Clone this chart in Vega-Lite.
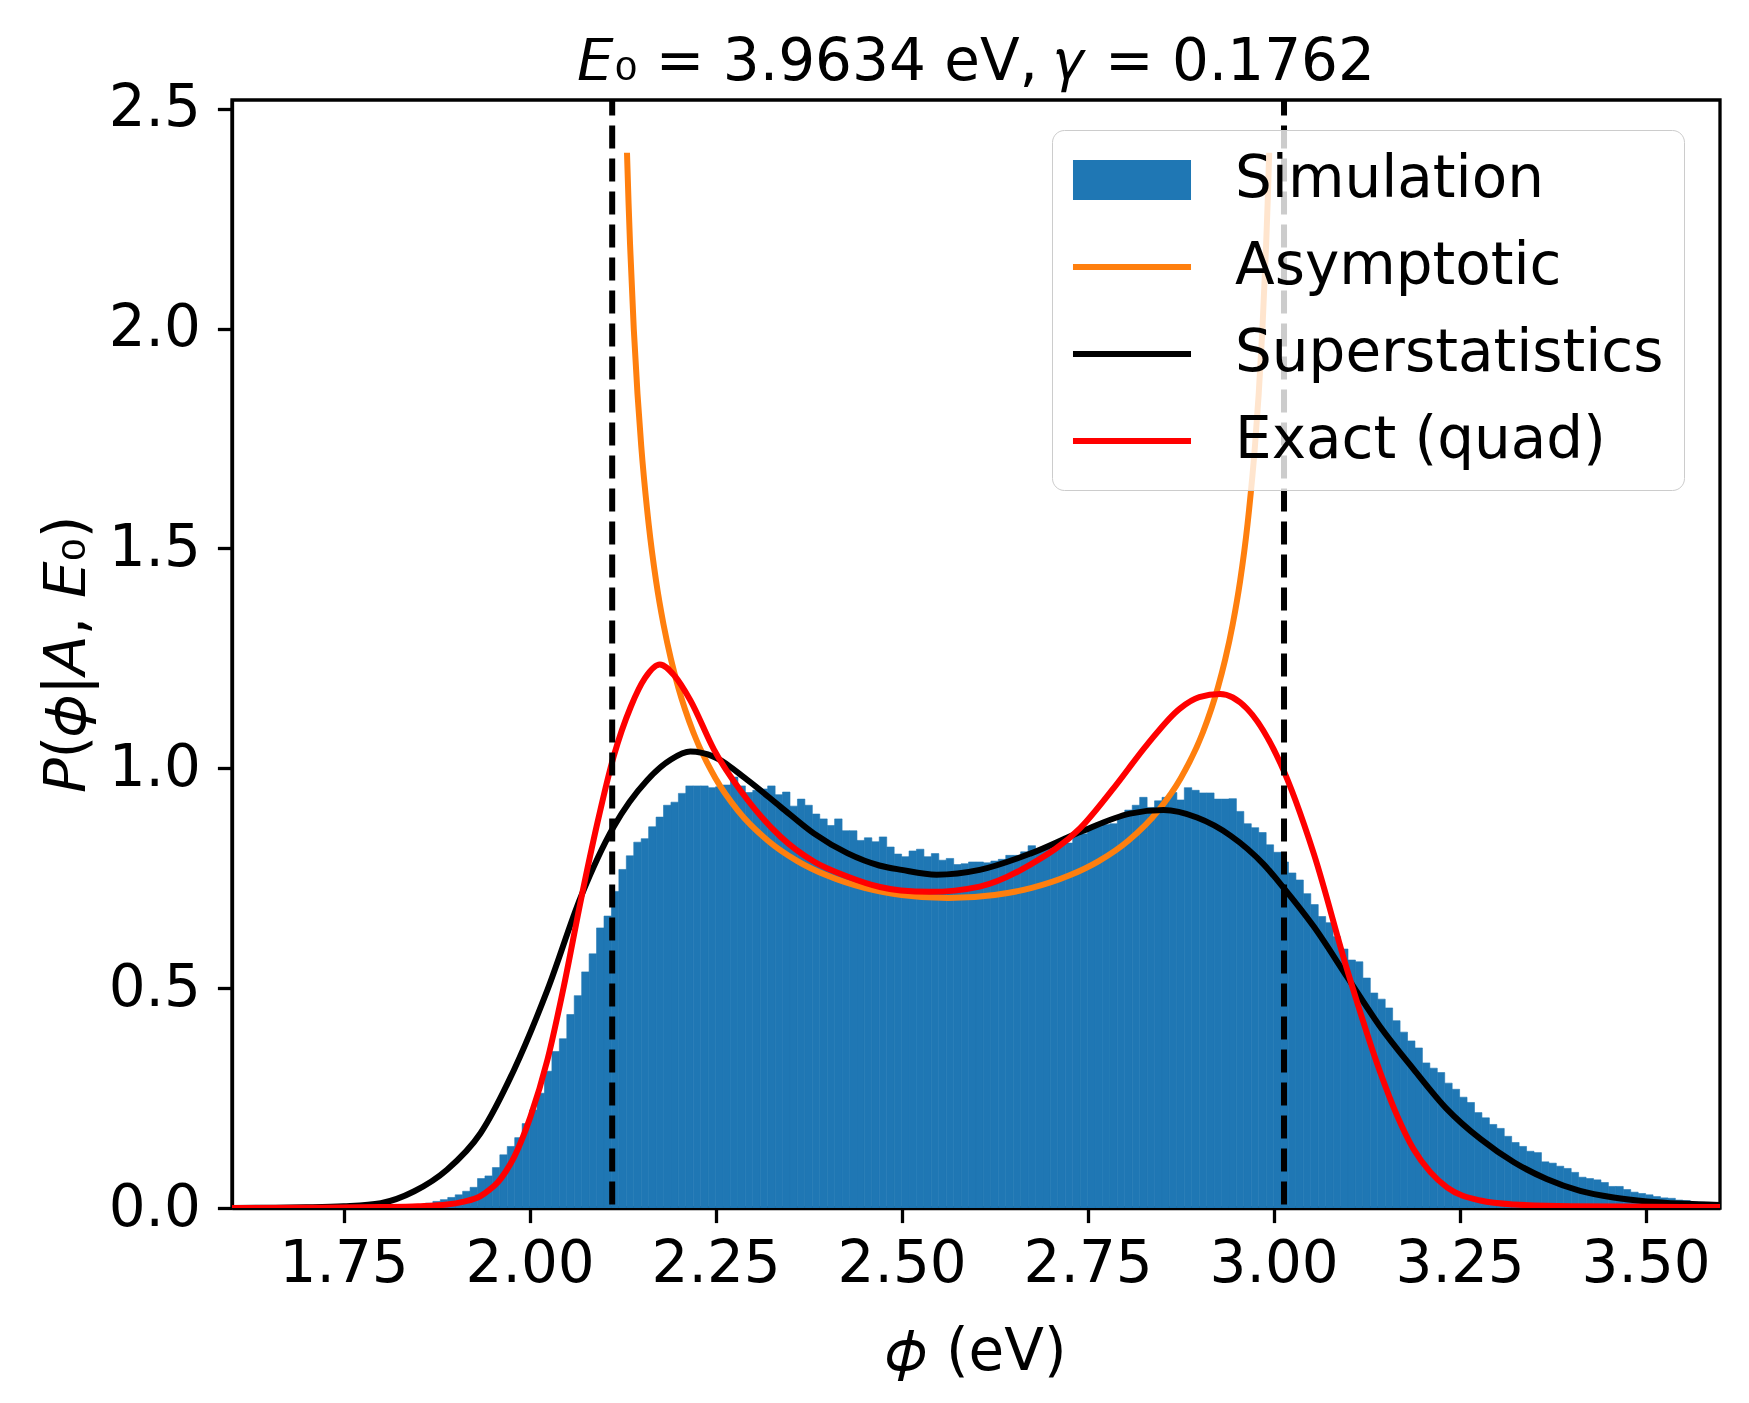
{
  "$schema": "https://vega.github.io/schema/vega-lite/v6.json",
  "width": 1488,
  "height": 1108,
  "autosize": {"type": "none"},
  "padding": {"left": 232, "top": 100, "right": 29, "bottom": 195},
  "background": "white",
  "title": {
    "text": "𝘌₀ = 3.9634 eV, 𝛾 = 0.1762",
    "font": "DejaVu Sans",
    "fontSize": 58,
    "fontWeight": "normal",
    "color": "black",
    "anchor": "middle",
    "frame": "group",
    "baseline": "alphabetic",
    "offset": 23,
    "dy": 81
  },
  "datasets": {
    "hist": [
      {"lo": 1.82, "hi": 1.83, "p": 0.002}, {"lo": 1.83, "hi": 1.84, "p": 0.004},
      {"lo": 1.84, "hi": 1.85, "p": 0.006}, {"lo": 1.85, "hi": 1.86, "p": 0.008},
      {"lo": 1.86, "hi": 1.87, "p": 0.011}, {"lo": 1.87, "hi": 1.88, "p": 0.015},
      {"lo": 1.88, "hi": 1.89, "p": 0.019}, {"lo": 1.89, "hi": 1.90, "p": 0.024},
      {"lo": 1.90, "hi": 1.91, "p": 0.030}, {"lo": 1.91, "hi": 1.92, "p": 0.038},
      {"lo": 1.92, "hi": 1.93, "p": 0.047}, {"lo": 1.93, "hi": 1.94, "p": 0.067},
      {"lo": 1.94, "hi": 1.95, "p": 0.073}, {"lo": 1.95, "hi": 1.96, "p": 0.092},
      {"lo": 1.96, "hi": 1.97, "p": 0.121}, {"lo": 1.97, "hi": 1.98, "p": 0.140},
      {"lo": 1.98, "hi": 1.99, "p": 0.160}, {"lo": 1.99, "hi": 2.00, "p": 0.192},
      {"lo": 2.00, "hi": 2.01, "p": 0.223}, {"lo": 2.01, "hi": 2.02, "p": 0.261},
      {"lo": 2.02, "hi": 2.03, "p": 0.311}, {"lo": 2.03, "hi": 2.04, "p": 0.356},
      {"lo": 2.04, "hi": 2.05, "p": 0.385}, {"lo": 2.05, "hi": 2.06, "p": 0.440},
      {"lo": 2.06, "hi": 2.07, "p": 0.483}, {"lo": 2.07, "hi": 2.08, "p": 0.537},
      {"lo": 2.08, "hi": 2.09, "p": 0.578}, {"lo": 2.09, "hi": 2.10, "p": 0.637},
      {"lo": 2.10, "hi": 2.11, "p": 0.664}, {"lo": 2.11, "hi": 2.12, "p": 0.720},
      {"lo": 2.12, "hi": 2.13, "p": 0.770}, {"lo": 2.13, "hi": 2.14, "p": 0.801},
      {"lo": 2.14, "hi": 2.15, "p": 0.832}, {"lo": 2.15, "hi": 2.16, "p": 0.840},
      {"lo": 2.16, "hi": 2.17, "p": 0.867}, {"lo": 2.17, "hi": 2.18, "p": 0.889},
      {"lo": 2.18, "hi": 2.19, "p": 0.916}, {"lo": 2.19, "hi": 2.20, "p": 0.923},
      {"lo": 2.20, "hi": 2.21, "p": 0.943}, {"lo": 2.21, "hi": 2.22, "p": 0.960},
      {"lo": 2.22, "hi": 2.23, "p": 0.960}, {"lo": 2.23, "hi": 2.24, "p": 0.960},
      {"lo": 2.24, "hi": 2.25, "p": 0.956}, {"lo": 2.25, "hi": 2.26, "p": 0.958},
      {"lo": 2.26, "hi": 2.27, "p": 0.962}, {"lo": 2.27, "hi": 2.28, "p": 0.980},
      {"lo": 2.28, "hi": 2.29, "p": 0.960}, {"lo": 2.29, "hi": 2.30, "p": 0.945},
      {"lo": 2.30, "hi": 2.31, "p": 0.950}, {"lo": 2.31, "hi": 2.32, "p": 0.953},
      {"lo": 2.32, "hi": 2.33, "p": 0.960}, {"lo": 2.33, "hi": 2.34, "p": 0.940},
      {"lo": 2.34, "hi": 2.35, "p": 0.946}, {"lo": 2.35, "hi": 2.36, "p": 0.914},
      {"lo": 2.36, "hi": 2.37, "p": 0.930}, {"lo": 2.37, "hi": 2.38, "p": 0.916},
      {"lo": 2.38, "hi": 2.39, "p": 0.896}, {"lo": 2.39, "hi": 2.40, "p": 0.885},
      {"lo": 2.40, "hi": 2.41, "p": 0.870}, {"lo": 2.41, "hi": 2.42, "p": 0.885},
      {"lo": 2.42, "hi": 2.43, "p": 0.858}, {"lo": 2.43, "hi": 2.44, "p": 0.858},
      {"lo": 2.44, "hi": 2.45, "p": 0.836}, {"lo": 2.45, "hi": 2.46, "p": 0.842},
      {"lo": 2.46, "hi": 2.47, "p": 0.833}, {"lo": 2.47, "hi": 2.48, "p": 0.844},
      {"lo": 2.48, "hi": 2.49, "p": 0.821}, {"lo": 2.49, "hi": 2.50, "p": 0.805},
      {"lo": 2.50, "hi": 2.51, "p": 0.799}, {"lo": 2.51, "hi": 2.52, "p": 0.812},
      {"lo": 2.52, "hi": 2.53, "p": 0.816}, {"lo": 2.53, "hi": 2.54, "p": 0.799},
      {"lo": 2.54, "hi": 2.55, "p": 0.806}, {"lo": 2.55, "hi": 2.56, "p": 0.791},
      {"lo": 2.56, "hi": 2.57, "p": 0.795}, {"lo": 2.57, "hi": 2.58, "p": 0.781},
      {"lo": 2.58, "hi": 2.59, "p": 0.783}, {"lo": 2.59, "hi": 2.60, "p": 0.787},
      {"lo": 2.60, "hi": 2.61, "p": 0.787}, {"lo": 2.61, "hi": 2.62, "p": 0.785},
      {"lo": 2.62, "hi": 2.63, "p": 0.789}, {"lo": 2.63, "hi": 2.64, "p": 0.793},
      {"lo": 2.64, "hi": 2.65, "p": 0.802}, {"lo": 2.65, "hi": 2.66, "p": 0.802},
      {"lo": 2.66, "hi": 2.67, "p": 0.810}, {"lo": 2.67, "hi": 2.68, "p": 0.824},
      {"lo": 2.68, "hi": 2.69, "p": 0.810}, {"lo": 2.69, "hi": 2.70, "p": 0.818},
      {"lo": 2.70, "hi": 2.71, "p": 0.822}, {"lo": 2.71, "hi": 2.72, "p": 0.826},
      {"lo": 2.72, "hi": 2.73, "p": 0.830}, {"lo": 2.73, "hi": 2.74, "p": 0.847},
      {"lo": 2.74, "hi": 2.75, "p": 0.851}, {"lo": 2.75, "hi": 2.76, "p": 0.864},
      {"lo": 2.76, "hi": 2.77, "p": 0.868}, {"lo": 2.77, "hi": 2.78, "p": 0.872},
      {"lo": 2.78, "hi": 2.79, "p": 0.874}, {"lo": 2.79, "hi": 2.80, "p": 0.887},
      {"lo": 2.80, "hi": 2.81, "p": 0.905}, {"lo": 2.81, "hi": 2.82, "p": 0.916},
      {"lo": 2.82, "hi": 2.83, "p": 0.934}, {"lo": 2.83, "hi": 2.84, "p": 0.911},
      {"lo": 2.84, "hi": 2.85, "p": 0.926}, {"lo": 2.85, "hi": 2.86, "p": 0.934},
      {"lo": 2.86, "hi": 2.87, "p": 0.945}, {"lo": 2.87, "hi": 2.88, "p": 0.928},
      {"lo": 2.88, "hi": 2.89, "p": 0.956}, {"lo": 2.89, "hi": 2.90, "p": 0.950},
      {"lo": 2.90, "hi": 2.91, "p": 0.944}, {"lo": 2.91, "hi": 2.92, "p": 0.944},
      {"lo": 2.92, "hi": 2.93, "p": 0.930}, {"lo": 2.93, "hi": 2.94, "p": 0.930},
      {"lo": 2.94, "hi": 2.95, "p": 0.931}, {"lo": 2.95, "hi": 2.96, "p": 0.902},
      {"lo": 2.96, "hi": 2.97, "p": 0.874}, {"lo": 2.97, "hi": 2.98, "p": 0.865},
      {"lo": 2.98, "hi": 2.99, "p": 0.854}, {"lo": 2.99, "hi": 3.00, "p": 0.826},
      {"lo": 3.00, "hi": 3.01, "p": 0.809}, {"lo": 3.01, "hi": 3.02, "p": 0.787},
      {"lo": 3.02, "hi": 3.03, "p": 0.762}, {"lo": 3.03, "hi": 3.04, "p": 0.746},
      {"lo": 3.04, "hi": 3.05, "p": 0.715}, {"lo": 3.05, "hi": 3.06, "p": 0.690},
      {"lo": 3.06, "hi": 3.07, "p": 0.663}, {"lo": 3.07, "hi": 3.08, "p": 0.649},
      {"lo": 3.08, "hi": 3.09, "p": 0.617}, {"lo": 3.09, "hi": 3.10, "p": 0.589},
      {"lo": 3.10, "hi": 3.11, "p": 0.564}, {"lo": 3.11, "hi": 3.12, "p": 0.560},
      {"lo": 3.12, "hi": 3.13, "p": 0.523}, {"lo": 3.13, "hi": 3.14, "p": 0.489},
      {"lo": 3.14, "hi": 3.15, "p": 0.475}, {"lo": 3.15, "hi": 3.16, "p": 0.455},
      {"lo": 3.16, "hi": 3.17, "p": 0.426}, {"lo": 3.17, "hi": 3.18, "p": 0.400},
      {"lo": 3.18, "hi": 3.19, "p": 0.380}, {"lo": 3.19, "hi": 3.20, "p": 0.364},
      {"lo": 3.20, "hi": 3.21, "p": 0.330}, {"lo": 3.21, "hi": 3.22, "p": 0.318},
      {"lo": 3.22, "hi": 3.23, "p": 0.308}, {"lo": 3.23, "hi": 3.24, "p": 0.284},
      {"lo": 3.24, "hi": 3.25, "p": 0.270}, {"lo": 3.25, "hi": 3.26, "p": 0.252},
      {"lo": 3.26, "hi": 3.27, "p": 0.240}, {"lo": 3.27, "hi": 3.28, "p": 0.217},
      {"lo": 3.28, "hi": 3.29, "p": 0.205}, {"lo": 3.29, "hi": 3.30, "p": 0.190},
      {"lo": 3.30, "hi": 3.31, "p": 0.181}, {"lo": 3.31, "hi": 3.32, "p": 0.163},
      {"lo": 3.32, "hi": 3.33, "p": 0.149}, {"lo": 3.33, "hi": 3.34, "p": 0.140},
      {"lo": 3.34, "hi": 3.35, "p": 0.129}, {"lo": 3.35, "hi": 3.36, "p": 0.126},
      {"lo": 3.36, "hi": 3.37, "p": 0.105}, {"lo": 3.37, "hi": 3.38, "p": 0.102},
      {"lo": 3.38, "hi": 3.39, "p": 0.095}, {"lo": 3.39, "hi": 3.40, "p": 0.090},
      {"lo": 3.40, "hi": 3.41, "p": 0.081}, {"lo": 3.41, "hi": 3.42, "p": 0.070},
      {"lo": 3.42, "hi": 3.43, "p": 0.067}, {"lo": 3.43, "hi": 3.44, "p": 0.064},
      {"lo": 3.44, "hi": 3.45, "p": 0.058}, {"lo": 3.45, "hi": 3.46, "p": 0.049},
      {"lo": 3.46, "hi": 3.47, "p": 0.049}, {"lo": 3.47, "hi": 3.48, "p": 0.042},
      {"lo": 3.48, "hi": 3.49, "p": 0.036}, {"lo": 3.49, "hi": 3.50, "p": 0.033},
      {"lo": 3.50, "hi": 3.51, "p": 0.030}, {"lo": 3.51, "hi": 3.52, "p": 0.026},
      {"lo": 3.52, "hi": 3.53, "p": 0.023}, {"lo": 3.53, "hi": 3.54, "p": 0.022},
      {"lo": 3.54, "hi": 3.55, "p": 0.018}, {"lo": 3.55, "hi": 3.56, "p": 0.017},
      {"lo": 3.56, "hi": 3.57, "p": 0.014}, {"lo": 3.57, "hi": 3.58, "p": 0.013},
      {"lo": 3.58, "hi": 3.59, "p": 0.011}, {"lo": 3.59, "hi": 3.60, "p": 0.011}
    ],
    "curves": [
      {"series": "Asymptotic", "phi": 2.1309, "p": 2.400},
      {"series": "Asymptotic", "phi": 2.133, "p": 2.286},
      {"series": "Asymptotic", "phi": 2.135, "p": 2.192},
      {"series": "Asymptotic", "phi": 2.140, "p": 2.000},
      {"series": "Asymptotic", "phi": 2.145, "p": 1.852},
      {"series": "Asymptotic", "phi": 2.150, "p": 1.734},
      {"series": "Asymptotic", "phi": 2.160, "p": 1.556},
      {"series": "Asymptotic", "phi": 2.170, "p": 1.426},
      {"series": "Asymptotic", "phi": 2.180, "p": 1.327},
      {"series": "Asymptotic", "phi": 2.190, "p": 1.248},
      {"series": "Asymptotic", "phi": 2.200, "p": 1.183},
      {"series": "Asymptotic", "phi": 2.220, "p": 1.082},
      {"series": "Asymptotic", "phi": 2.250, "p": 0.977},
      {"series": "Asymptotic", "phi": 2.280, "p": 0.904},
      {"series": "Asymptotic", "phi": 2.320, "p": 0.836},
      {"series": "Asymptotic", "phi": 2.360, "p": 0.789},
      {"series": "Asymptotic", "phi": 2.400, "p": 0.756},
      {"series": "Asymptotic", "phi": 2.450, "p": 0.728},
      {"series": "Asymptotic", "phi": 2.500, "p": 0.712},
      {"series": "Asymptotic", "phi": 2.5625, "p": 0.705},
      {"series": "Asymptotic", "phi": 2.625, "p": 0.712},
      {"series": "Asymptotic", "phi": 2.675, "p": 0.728},
      {"series": "Asymptotic", "phi": 2.725, "p": 0.756},
      {"series": "Asymptotic", "phi": 2.765, "p": 0.789},
      {"series": "Asymptotic", "phi": 2.805, "p": 0.836},
      {"series": "Asymptotic", "phi": 2.845, "p": 0.904},
      {"series": "Asymptotic", "phi": 2.875, "p": 0.977},
      {"series": "Asymptotic", "phi": 2.905, "p": 1.082},
      {"series": "Asymptotic", "phi": 2.925, "p": 1.183},
      {"series": "Asymptotic", "phi": 2.935, "p": 1.248},
      {"series": "Asymptotic", "phi": 2.945, "p": 1.327},
      {"series": "Asymptotic", "phi": 2.955, "p": 1.426},
      {"series": "Asymptotic", "phi": 2.965, "p": 1.556},
      {"series": "Asymptotic", "phi": 2.975, "p": 1.734},
      {"series": "Asymptotic", "phi": 2.980, "p": 1.852},
      {"series": "Asymptotic", "phi": 2.985, "p": 2.000},
      {"series": "Asymptotic", "phi": 2.990, "p": 2.192},
      {"series": "Asymptotic", "phi": 2.992, "p": 2.286},
      {"series": "Asymptotic", "phi": 2.9941, "p": 2.400},

      {"series": "Superstatistics", "phi": 1.600, "p": 0.000},
      {"series": "Superstatistics", "phi": 1.650, "p": 0.0005},
      {"series": "Superstatistics", "phi": 1.700, "p": 0.0015},
      {"series": "Superstatistics", "phi": 1.750, "p": 0.004},
      {"series": "Superstatistics", "phi": 1.800, "p": 0.011},
      {"series": "Superstatistics", "phi": 1.845, "p": 0.038},
      {"series": "Superstatistics", "phi": 1.889, "p": 0.087},
      {"series": "Superstatistics", "phi": 1.934, "p": 0.170},
      {"series": "Superstatistics", "phi": 1.979, "p": 0.314},
      {"series": "Superstatistics", "phi": 2.024, "p": 0.496},
      {"series": "Superstatistics", "phi": 2.069, "p": 0.708},
      {"series": "Superstatistics", "phi": 2.113, "p": 0.867},
      {"series": "Superstatistics", "phi": 2.158, "p": 0.973},
      {"series": "Superstatistics", "phi": 2.190, "p": 1.020},
      {"series": "Superstatistics", "phi": 2.216, "p": 1.038},
      {"series": "Superstatistics", "phi": 2.248, "p": 1.026},
      {"series": "Superstatistics", "phi": 2.293, "p": 0.973},
      {"series": "Superstatistics", "phi": 2.337, "p": 0.913},
      {"series": "Superstatistics", "phi": 2.382, "p": 0.852},
      {"series": "Superstatistics", "phi": 2.427, "p": 0.807},
      {"series": "Superstatistics", "phi": 2.470, "p": 0.779},
      {"series": "Superstatistics", "phi": 2.500, "p": 0.769},
      {"series": "Superstatistics", "phi": 2.547, "p": 0.758},
      {"series": "Superstatistics", "phi": 2.605, "p": 0.769},
      {"series": "Superstatistics", "phi": 2.673, "p": 0.806},
      {"series": "Superstatistics", "phi": 2.740, "p": 0.855},
      {"series": "Superstatistics", "phi": 2.807, "p": 0.897},
      {"series": "Superstatistics", "phi": 2.852, "p": 0.905},
      {"series": "Superstatistics", "phi": 2.897, "p": 0.888},
      {"series": "Superstatistics", "phi": 2.942, "p": 0.847},
      {"series": "Superstatistics", "phi": 2.987, "p": 0.781},
      {"series": "Superstatistics", "phi": 3.014, "p": 0.727},
      {"series": "Superstatistics", "phi": 3.054, "p": 0.640},
      {"series": "Superstatistics", "phi": 3.099, "p": 0.525},
      {"series": "Superstatistics", "phi": 3.143, "p": 0.413},
      {"series": "Superstatistics", "phi": 3.188, "p": 0.316},
      {"series": "Superstatistics", "phi": 3.233, "p": 0.225},
      {"series": "Superstatistics", "phi": 3.278, "p": 0.157},
      {"series": "Superstatistics", "phi": 3.323, "p": 0.104},
      {"series": "Superstatistics", "phi": 3.367, "p": 0.066},
      {"series": "Superstatistics", "phi": 3.412, "p": 0.039},
      {"series": "Superstatistics", "phi": 3.457, "p": 0.024},
      {"series": "Superstatistics", "phi": 3.502, "p": 0.015},
      {"series": "Superstatistics", "phi": 3.547, "p": 0.010},
      {"series": "Superstatistics", "phi": 3.600, "p": 0.007},

      {"series": "Exact (quad)", "phi": 1.600, "p": 0.000},
      {"series": "Exact (quad)", "phi": 1.700, "p": 0.0005},
      {"series": "Exact (quad)", "phi": 1.800, "p": 0.002},
      {"series": "Exact (quad)", "phi": 1.850, "p": 0.004},
      {"series": "Exact (quad)", "phi": 1.889, "p": 0.008},
      {"series": "Exact (quad)", "phi": 1.910, "p": 0.014},
      {"series": "Exact (quad)", "phi": 1.934, "p": 0.027},
      {"series": "Exact (quad)", "phi": 1.945, "p": 0.040},
      {"series": "Exact (quad)", "phi": 1.957, "p": 0.058},
      {"series": "Exact (quad)", "phi": 1.968, "p": 0.083},
      {"series": "Exact (quad)", "phi": 1.979, "p": 0.115},
      {"series": "Exact (quad)", "phi": 1.990, "p": 0.157},
      {"series": "Exact (quad)", "phi": 2.001, "p": 0.207},
      {"series": "Exact (quad)", "phi": 2.024, "p": 0.337},
      {"series": "Exact (quad)", "phi": 2.046, "p": 0.504},
      {"series": "Exact (quad)", "phi": 2.069, "p": 0.701},
      {"series": "Exact (quad)", "phi": 2.091, "p": 0.875},
      {"series": "Exact (quad)", "phi": 2.113, "p": 1.027},
      {"series": "Exact (quad)", "phi": 2.136, "p": 1.140},
      {"series": "Exact (quad)", "phi": 2.155, "p": 1.205},
      {"series": "Exact (quad)", "phi": 2.175, "p": 1.236},
      {"series": "Exact (quad)", "phi": 2.195, "p": 1.210},
      {"series": "Exact (quad)", "phi": 2.216, "p": 1.155},
      {"series": "Exact (quad)", "phi": 2.248, "p": 1.042},
      {"series": "Exact (quad)", "phi": 2.293, "p": 0.928},
      {"series": "Exact (quad)", "phi": 2.337, "p": 0.845},
      {"series": "Exact (quad)", "phi": 2.382, "p": 0.788},
      {"series": "Exact (quad)", "phi": 2.427, "p": 0.754},
      {"series": "Exact (quad)", "phi": 2.471, "p": 0.730},
      {"series": "Exact (quad)", "phi": 2.499, "p": 0.722},
      {"series": "Exact (quad)", "phi": 2.538, "p": 0.719},
      {"series": "Exact (quad)", "phi": 2.605, "p": 0.731},
      {"series": "Exact (quad)", "phi": 2.673, "p": 0.781},
      {"series": "Exact (quad)", "phi": 2.740, "p": 0.864},
      {"series": "Exact (quad)", "phi": 2.785, "p": 0.955},
      {"series": "Exact (quad)", "phi": 2.830, "p": 1.054},
      {"series": "Exact (quad)", "phi": 2.874, "p": 1.136},
      {"series": "Exact (quad)", "phi": 2.900, "p": 1.162},
      {"series": "Exact (quad)", "phi": 2.928, "p": 1.169},
      {"series": "Exact (quad)", "phi": 2.964, "p": 1.136},
      {"series": "Exact (quad)", "phi": 3.009, "p": 1.012},
      {"series": "Exact (quad)", "phi": 3.054, "p": 0.806},
      {"series": "Exact (quad)", "phi": 3.099, "p": 0.541},
      {"series": "Exact (quad)", "phi": 3.143, "p": 0.310},
      {"series": "Exact (quad)", "phi": 3.166, "p": 0.210},
      {"series": "Exact (quad)", "phi": 3.188, "p": 0.134},
      {"series": "Exact (quad)", "phi": 3.211, "p": 0.081},
      {"series": "Exact (quad)", "phi": 3.233, "p": 0.047},
      {"series": "Exact (quad)", "phi": 3.278, "p": 0.017},
      {"series": "Exact (quad)", "phi": 3.323, "p": 0.008},
      {"series": "Exact (quad)", "phi": 3.400, "p": 0.004},
      {"series": "Exact (quad)", "phi": 3.500, "p": 0.003},
      {"series": "Exact (quad)", "phi": 3.600, "p": 0.002}
    ],
    "vlines": [
      {"phi": 2.111},
      {"phi": 3.014}
    ]
  },
  "layer": [
    {
      "data": {"name": "curves"},
      "mark": {"type": "point", "filled": true, "size": 0, "clip": true},
      "encoding": {
        "x": {
          "field": "phi",
          "type": "quantitative",
          "scale": {"domain": [1.6, 3.6], "nice": false, "zero": false},
          "axis": {
            "title": "𝜙 (eV)",
            "values": [1.75, 2.0, 2.25, 2.5, 2.75, 3.0, 3.25, 3.5],
            "format": ".2f",
            "labelPadding": 13,
            "titlePadding": 30
          }
        },
        "y": {
          "field": "p",
          "type": "quantitative",
          "scale": {"domain": [0, 2.52], "nice": false},
          "axis": {
            "title": "𝘗(𝜙|𝘈, 𝘌₀)",
            "values": [0, 0.5, 1.0, 1.5, 2.0, 2.5],
            "format": ".1f",
            "labelPadding": 17,
            "titlePadding": 12
          }
        },
        "color": {
          "field": "series",
          "type": "nominal",
          "scale": {
            "domain": ["Simulation", "Asymptotic", "Superstatistics", "Exact (quad)"],
            "range": ["#1f77b4", "#ff7f0e", "#000000", "#ff0000"]
          },
          "legend": {
            "title": null,
            "orient": "none",
            "legendX": 820,
            "legendY": 30,
            "direction": "vertical",
            "padding": 20,
            "rowPadding": 28,
            "fillColor": "rgba(255,255,255,0.8)",
            "strokeColor": "#cccccc",
            "cornerRadius": 12,
            "labelFont": "DejaVu Sans",
            "labelFontSize": 58,
            "labelColor": "black",
            "labelLimit": 1000,
            "labelOffset": 73,
            "symbolSize": 3600,
            "symbolOffset": 30,
            "symbolOpacity": 1,
            "symbolStrokeWidth": 0
          }
        },
        "shape": {
          "field": "series",
          "type": "nominal",
          "scale": {
            "domain": ["Simulation", "Asymptotic", "Superstatistics", "Exact (quad)"],
            "range": [
              "M-1.967,-0.667L1.967,-0.667L1.967,0.667L-1.967,0.667Z",
              "M-1.967,-0.1L1.967,-0.1L1.967,0.1L-1.967,0.1Z",
              "M-1.967,-0.1L1.967,-0.1L1.967,0.1L-1.967,0.1Z",
              "M-1.967,-0.1L1.967,-0.1L1.967,0.1L-1.967,0.1Z"
            ]
          },
          "legend": {
            "title": null,
            "orient": "none",
            "legendX": 820,
            "legendY": 30,
            "direction": "vertical",
            "padding": 20,
            "rowPadding": 28,
            "fillColor": "rgba(255,255,255,0.8)",
            "strokeColor": "#cccccc",
            "cornerRadius": 12,
            "labelFont": "DejaVu Sans",
            "labelFontSize": 58,
            "labelColor": "black",
            "labelLimit": 1000,
            "labelOffset": 73,
            "symbolSize": 3600,
            "symbolOffset": 30,
            "symbolOpacity": 1,
            "symbolStrokeWidth": 0
          }
        }
      }
    },
    {
      "data": {"name": "hist"},
      "mark": {"type": "rect", "stroke": "#1f77b4", "strokeWidth": 0.6, "clip": true},
      "encoding": {
        "x": {"field": "lo", "type": "quantitative"},
        "x2": {"field": "hi"},
        "y": {"field": "p", "type": "quantitative"},
        "y2": {"datum": 0},
        "color": {"datum": "Simulation", "type": "nominal", "legend": null}
      }
    },
    {
      "data": {"name": "curves"},
      "transform": [{"filter": "datum.series === 'Asymptotic'"}],
      "mark": {"type": "line", "strokeWidth": 6, "interpolate": "monotone", "clip": true},
      "encoding": {
        "x": {"field": "phi", "type": "quantitative"},
        "y": {"field": "p", "type": "quantitative"},
        "color": {"field": "series", "type": "nominal", "legend": null}
      }
    },
    {
      "data": {"name": "curves"},
      "transform": [{"filter": "datum.series === 'Superstatistics'"}],
      "mark": {"type": "line", "strokeWidth": 6, "interpolate": "monotone", "clip": true},
      "encoding": {
        "x": {"field": "phi", "type": "quantitative"},
        "y": {"field": "p", "type": "quantitative"},
        "color": {"field": "series", "type": "nominal", "legend": null}
      }
    },
    {
      "data": {"name": "curves"},
      "transform": [{"filter": "datum.series === 'Exact (quad)'"}],
      "mark": {"type": "line", "strokeWidth": 6, "interpolate": "monotone", "clip": true},
      "encoding": {
        "x": {"field": "phi", "type": "quantitative"},
        "y": {"field": "p", "type": "quantitative"},
        "color": {"field": "series", "type": "nominal", "legend": null}
      }
    },
    {
      "data": {"name": "vlines"},
      "mark": {"type": "rule", "color": "black", "strokeWidth": 6, "strokeDash": [23, 10], "strokeDashOffset": 7.4},
      "encoding": {
        "x": {"field": "phi", "type": "quantitative"}
      }
    }
  ],
  "config": {
    "font": "DejaVu Sans",
    "view": {"stroke": "black", "strokeWidth": 3.3},
    "axis": {
      "domain": true,
      "domainColor": "black",
      "domainWidth": 3.3,
      "ticks": true,
      "tickColor": "black",
      "tickWidth": 3.3,
      "tickSize": 14.6,
      "grid": false,
      "labelFont": "DejaVu Sans",
      "labelFontSize": 58,
      "labelColor": "black",
      "labelFlush": false,
      "labelOverlap": false,
      "titleFont": "DejaVu Sans",
      "titleFontSize": 58,
      "titleFontWeight": "normal",
      "titleColor": "black",
      "zindex": 1
    }
  }
}
